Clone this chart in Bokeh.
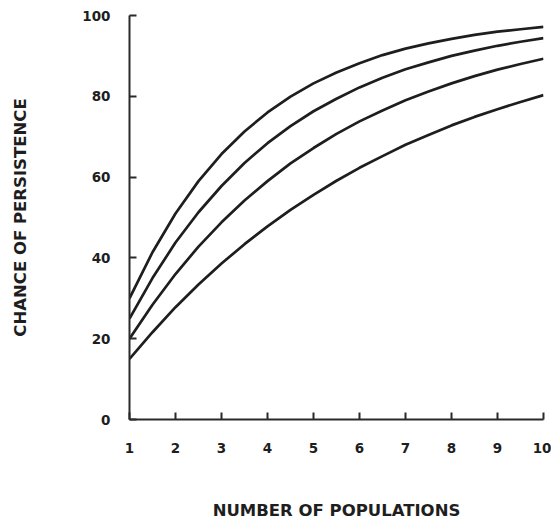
from bokeh.plotting import figure
from bokeh.models import Range1d, FixedTicker
from bokeh.embed import file_html
from bokeh.resources import INLINE

# Number of populations (read at half steps)
populations = [1, 1.5, 2, 2.5, 3, 3.5, 4, 4.5, 5, 5.5, 6, 6.5, 7, 7.5, 8, 8.5, 9, 9.5, 10]

# Chance of persistence (%) for each curve
curve_a = [30.0, 41.4, 51.0, 59.0, 65.7, 71.3, 76.0, 79.9, 83.2, 85.9, 88.2, 90.2, 91.8, 93.1, 94.2, 95.2, 96.0, 96.6, 97.2]
curve_b = [25.0, 35.0, 43.8, 51.3, 57.8, 63.5, 68.4, 72.6, 76.3, 79.4, 82.2, 84.6, 86.7, 88.4, 90.0, 91.3, 92.5, 93.5, 94.4]
curve_c = [20.0, 28.4, 36.0, 42.8, 48.8, 54.2, 59.0, 63.4, 67.2, 70.7, 73.8, 76.5, 79.0, 81.2, 83.2, 85.0, 86.6, 88.0, 89.3]
curve_d = [15.0, 21.6, 27.8, 33.4, 38.6, 43.4, 47.8, 51.9, 55.6, 59.1, 62.3, 65.2, 68.0, 70.4, 72.8, 74.9, 76.8, 78.6, 80.3]

x_ticks = [1, 2, 3, 4, 5, 6, 7, 8, 9, 10]
y_ticks = [0, 20, 40, 60, 80, 100]

FONT = "DejaVu Sans"
INK = "#1e1e1e"

p = figure(width=551, height=522, output_backend="svg", toolbar_location=None,
           x_range=Range1d(1, 10), y_range=Range1d(0, 100),
           min_border_left=129, min_border_right=8, min_border_top=15, min_border_bottom=100)
p.grid.visible = False
p.outline_line_color = None
p.background_fill_color = "white"
p.border_fill_color = "white"

for ys in (curve_a, curve_b, curve_c, curve_d):
    p.line(populations, ys, line_color=INK, line_width=2.7)

for ax in (p.xaxis[0], p.yaxis[0]):
    ax.axis_line_color = "#2a2a2a"
    ax.axis_line_width = 2
    ax.major_tick_line_color = "#2a2a2a"
    ax.major_tick_line_width = 2
    ax.major_tick_in = 7
    ax.major_tick_out = 0
    ax.minor_tick_line_color = None
    ax.major_label_text_font = FONT
    ax.major_label_text_font_style = "bold"
    ax.major_label_text_font_size = "13.5px"
    ax.major_label_text_color = INK
    ax.axis_label_text_font = FONT
    ax.axis_label_text_font_style = "bold"
    ax.axis_label_text_font_size = "16.5px"
    ax.axis_label_text_color = INK

p.xaxis[0].ticker = FixedTicker(ticks=x_ticks)
p.yaxis[0].ticker = FixedTicker(ticks=y_ticks)
p.xaxis[0].major_label_standoff = 23
p.yaxis[0].major_label_standoff = 19
p.xaxis[0].axis_label = "NUMBER OF POPULATIONS"
p.yaxis[0].axis_label = "CHANCE OF PERSISTENCE"
p.xaxis[0].axis_label_standoff = 45
p.yaxis[0].axis_label_standoff = 49

open("out.html", "w").write(file_html(p, INLINE))
